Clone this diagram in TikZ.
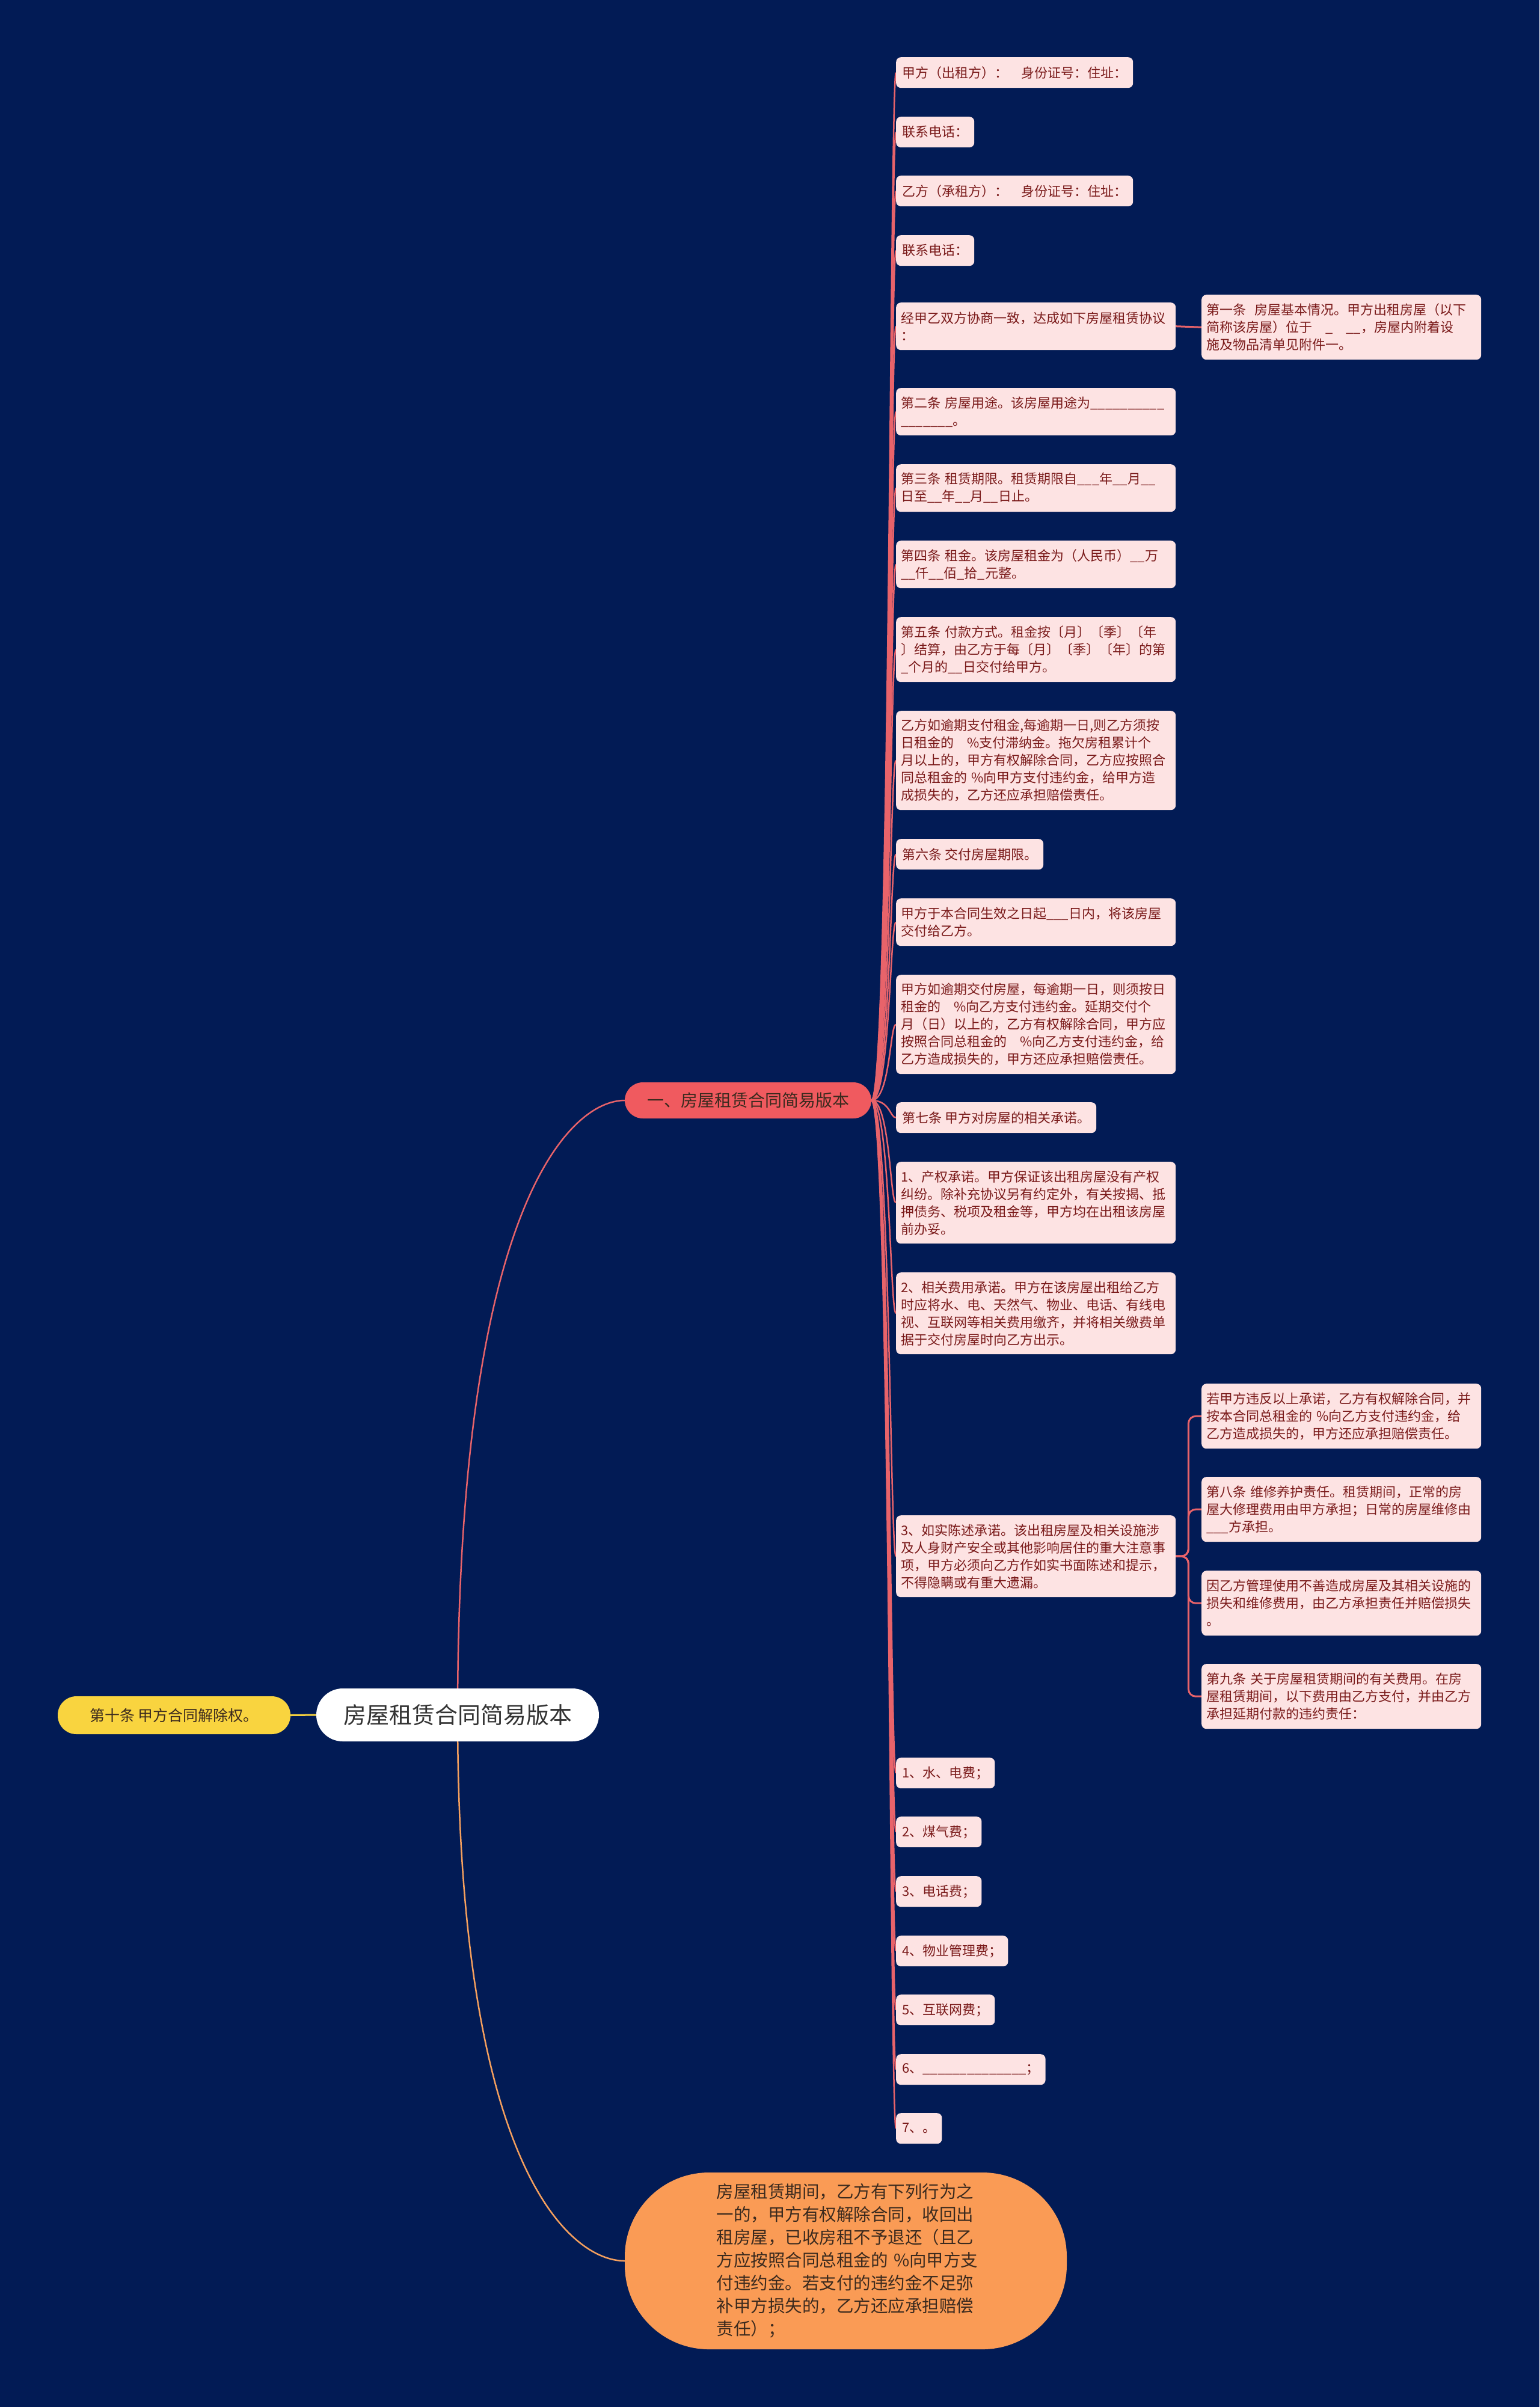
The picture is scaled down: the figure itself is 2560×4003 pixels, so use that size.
\documentclass[tikz,border=0pt]{standalone}
\usepackage{fontspec}
\setmainfont{Noto Sans CJK SC}
\definecolor{bgnavy}{HTML}{021B55}
\definecolor{pinkfill}{HTML}{FDE3E3}
\definecolor{pinktext}{HTML}{7A1A1A}
\definecolor{redline}{HTML}{E8636A}
\definecolor{redfill}{HTML}{F05A5F}
\definecolor{orangefill}{HTML}{FA9B55}
\definecolor{orangeline}{HTML}{F5A05E}
\definecolor{yellowfill}{HTML}{F9D43F}
\definecolor{yellowline}{HTML}{F4D03F}
\definecolor{darktext}{HTML}{333333}
\definecolor{browntext}{HTML}{3B2A1E}
\pgfdeclarelayer{bg}
\pgfdeclarelayer{edges}
\pgfsetlayers{bg,edges,main}
\begin{document}
\begin{tikzpicture}[x=1pt,y=-1pt,
  pk/.style={fill=pinkfill, text=pinktext, rounded corners=8pt, inner xsep=10pt, inner ysep=0pt,
    anchor=north west, font=\fontsize{22}{29}\selectfont, align=left},
  pkw/.style={pk, inner xsep=8pt, text width=449pt},
  h1/.style={minimum height=51pt},
  h2/.style={minimum height=79pt},
  h3/.style={minimum height=108pt},
  h4/.style={minimum height=136pt},
  h5/.style={minimum height=165pt},
  rootst/.style={fill=white, text=darktext, rounded corners=44pt, minimum width=470pt,
    minimum height=88pt, inner sep=0pt, font=\fontsize{38}{44}\selectfont},
  lvlone/.style={fill=redfill, text=browntext, rounded corners=30pt, minimum width=410pt,
    minimum height=60pt, inner sep=0pt, font=\fontsize{28}{34}\selectfont},
  yellowst/.style={fill=yellowfill, text=browntext, rounded corners=31pt, minimum width=387pt,
    minimum height=63pt, inner sep=0pt, font=\fontsize{25}{30}\selectfont},
  orangest/.style={fill=orangefill, text=browntext, rounded corners=140pt, minimum width=735pt,
    minimum height=294pt, inner sep=0pt, text width=430pt, align=left,
    font=\fontsize{28.5}{38}\selectfont},
  eone/.style={draw=redline, line width=2.5pt},
  etwo/.style={draw=redline, line width=3pt},
]
\begin{pgfonlayer}{bg}
\fill[bgnavy] (0,0) rectangle (2560,4003);
\end{pgfonlayer}
\useasboundingbox (0,0) rectangle (2560,4003);

% main nodes
\node[rootst] (root) at (761,2852) {房屋租赁合同简易版本};
\node[lvlone] (l1) at (1244,1830) {一、房屋租赁合同简易版本};
\node[yellowst] (ten) at (289.5,2852.5) {第十条~甲方合同解除权。};
\node[orangest] (orng) at (1406.5,3760) {房屋租赁期间，乙方有下列行为之\\一的，甲方有权解除合同，收回出\\租房屋，已收房租不予退还（且乙\\方应按照合同总租金的~\%向甲方支\\付违约金。若支付的违约金不足弥\\补甲方损失的，乙方还应承担赔偿\\责任）；};

% first-level children
\node[pk,h1] (p1) at (1490,95) {甲方（出租方）：　身份证号：住址：};
\node[pk,h1] (p2) at (1490,194) {联系电话：};
\node[pk,h1] (p3) at (1490,292) {乙方（承租方）：　身份证号：住址：};
\node[pk,h1] (p4) at (1490,391) {联系电话：};
\node[pkw,h2] (p5) at (1490,503) {经甲乙双方协商一致，达成如下房屋租赁协议\\：};
\node[pkw,h2] (p6) at (1490,645) {第二条~房屋用途。该房屋用途为\_\_\_\_\_\_\_\_\_\_\\\_\_\_\_\_\_\_。};
\node[pkw,h2] (p7) at (1490,772) {第三条~租赁期限。租赁期限自\_\_\_年\_\_月\_\_\\日至\_\_年\_\_月\_\_日止。};
\node[pkw,h2] (p8) at (1490,899) {第四条~租金。该房屋租金为（人民币）\_\_万\\\_\_仟\_\_佰\_拾\_元整。};
\node[pkw,h3] (p9) at (1490,1026) {第五条~付款方式。租金按〔月〕〔季〕〔年\\〕结算，由乙方于每〔月〕〔季〕〔年〕的第\\\_个月的\_\_日交付给甲方。};
\node[pkw,h5] (p10) at (1490,1182) {乙方如逾期支付租金,每逾期一日,则乙方须按\\日租金的　\%支付滞纳金。拖欠房租累计个\\月以上的，甲方有权解除合同，乙方应按照合\\同总租金的~\%向甲方支付违约金，给甲方造\\成损失的，乙方还应承担赔偿责任。};
\node[pk,h1] (p11) at (1490,1395) {第六条~交付房屋期限。};
\node[pkw,h2] (p12) at (1490,1494) {甲方于本合同生效之日起\_\_\_日内，将该房屋\\交付给乙方。};
\node[pkw,h5] (p13) at (1490,1621) {甲方如逾期交付房屋，每逾期一日，则须按日\\租金的　\%向乙方支付违约金。延期交付个\\月（日）以上的，乙方有权解除合同，甲方应\\按照合同总租金的　\%向乙方支付违约金，给\\乙方造成损失的，甲方还应承担赔偿责任。};
\node[pk,h1] (p14) at (1490,1833) {第七条~甲方对房屋的相关承诺。};
\node[pkw,h4] (p15) at (1490,1932) {1、产权承诺。甲方保证该出租房屋没有产权\\纠纷。除补充协议另有约定外，有关按揭、抵\\押债务、税项及租金等，甲方均在出租该房屋\\前办妥。};
\node[pkw,h4] (p16) at (1490,2116) {2、相关费用承诺。甲方在该房屋出租给乙方\\时应将水、电、天然气、物业、电话、有线电\\视、互联网等相关费用缴齐，并将相关缴费单\\据于交付房屋时向乙方出示。};
\node[pkw,h4] (p17) at (1490,2520) {3、如实陈述承诺。该出租房屋及相关设施涉\\及人身财产安全或其他影响居住的重大注意事\\项，甲方必须向乙方作如实书面陈述和提示，\\不得隐瞒或有重大遗漏。};
\node[pk,h1] (p18) at (1490,2923) {1、水、电费；};
\node[pk,h1] (p19) at (1490,3021) {2、煤气费；};
\node[pk,h1] (p20) at (1490,3120) {3、电话费；};
\node[pk,h1] (p21) at (1490,3219) {4、物业管理费；};
\node[pk,h1] (p22) at (1490,3317) {5、互联网费；};
\node[pk,h1] (p23) at (1490,3416) {6、\_\_\_\_\_\_\_\_\_\_\_\_\_\_；};
\node[pk,h1] (p24) at (1490,3514) {7、。};

% second-level children
\node[pkw,h3] (q1) at (1998,490) {第一条~~房屋基本情况。甲方出租房屋（以下\\简称该房屋）位于　\_　\_\_，房屋内附着设\\施及物品清单见附件一。};
\node[pkw,h3] (r1) at (1998,2301) {若甲方违反以上承诺，乙方有权解除合同，并\\按本合同总租金的~\%向乙方支付违约金，给\\乙方造成损失的，甲方还应承担赔偿责任。};
\node[pkw,h3] (r2) at (1998,2456) {第八条~维修养护责任。租赁期间，正常的房\\屋大修理费用由甲方承担；日常的房屋维修由\\\_\_\_方承担。};
\node[pkw,h3] (r3) at (1998,2612) {因乙方管理使用不善造成房屋及其相关设施的\\损失和维修费用，由乙方承担责任并赔偿损失\\。};
\node[pkw,h3] (r4) at (1998,2767) {第九条~关于房屋租赁期间的有关费用。在房\\屋租赁期间，以下费用由乙方支付，并由乙方\\承担延期付款的违约责任：};

% connectors
\begin{pgfonlayer}{edges}
\draw[draw=redline, line width=2.5pt] (root.center) .. controls (761,2000) and (950,1830) .. (l1.west);
\draw[draw=orangeline, line width=2.5pt] (root.center) .. controls (761,3609) and (950,3760) .. (orng.west);
\draw[draw=yellowline, line width=3pt] (ten.east) -- (root.west);
\foreach \c in {p1,p2,p3,p4,p5,p6,p7,p8,p9,p10,p11,p12,p13,p14,p15,p16,p17,p18,p19,p20,p21,p22,p23,p24}
  \draw[eone] (l1.east) .. controls ([xshift=31pt]l1.east) and ([xshift=-10pt]\c.west) .. (\c.west);
\draw[etwo] (p5.east) -- (q1.west);
\foreach \c in {r1,r2,r3,r4}
  \draw[etwo, rounded corners=12pt] (p17.east) -- ++(21,0) |- (\c.west);
\end{pgfonlayer}
\end{tikzpicture}
\end{document}
